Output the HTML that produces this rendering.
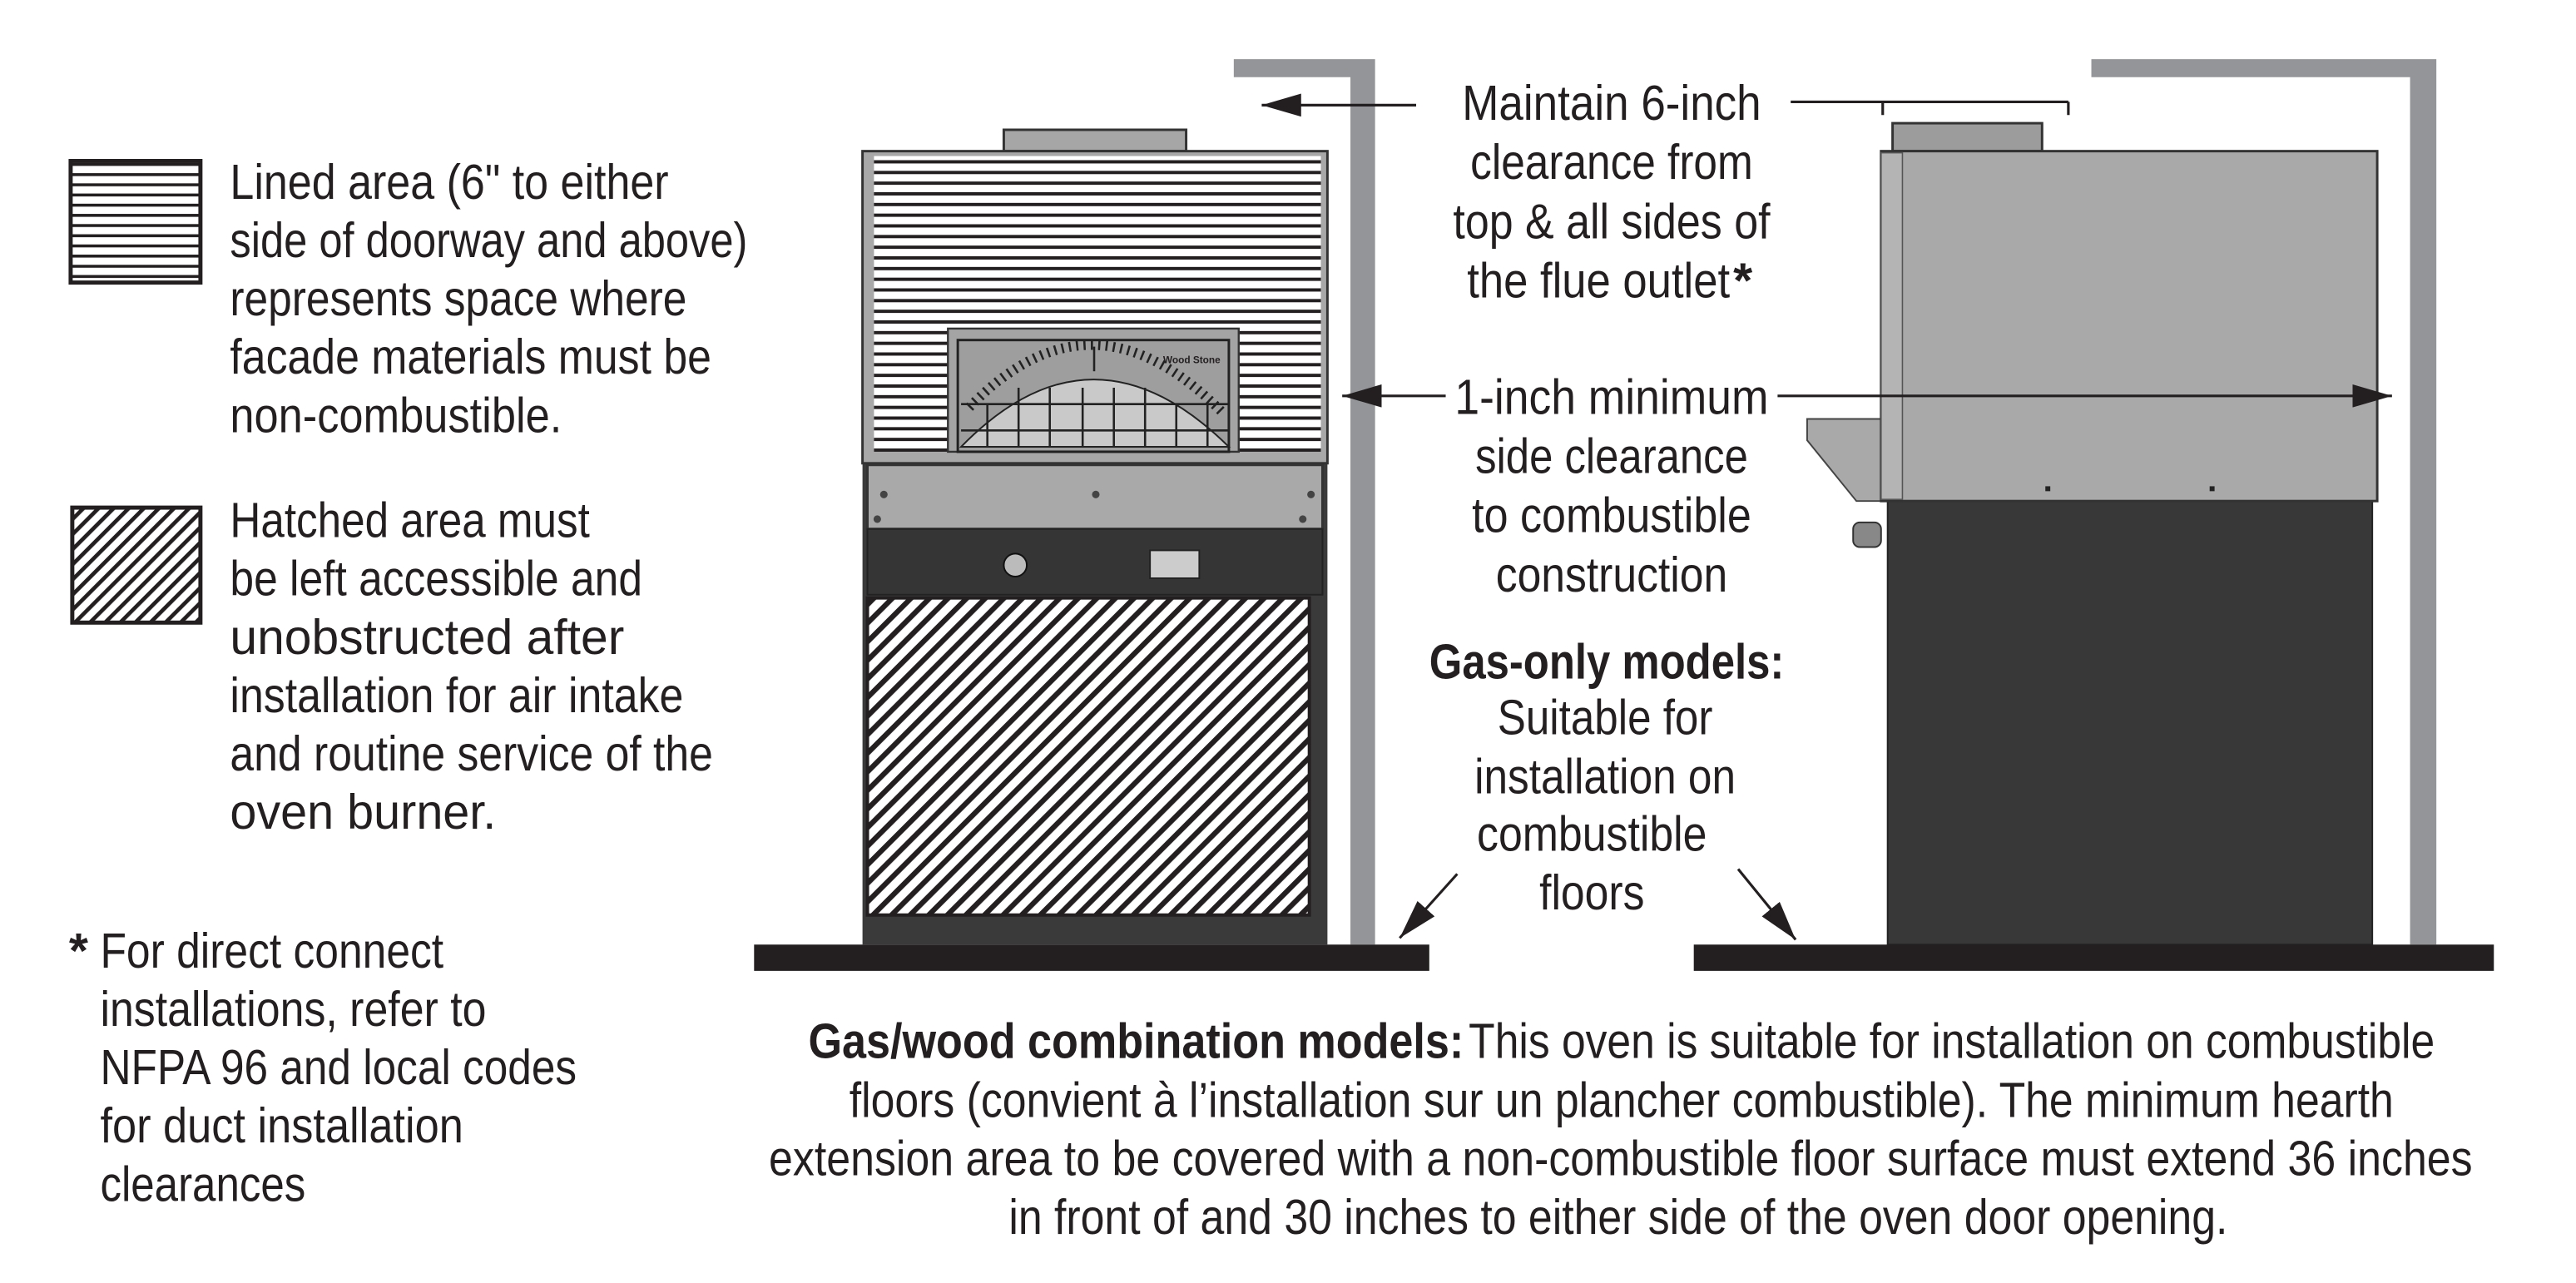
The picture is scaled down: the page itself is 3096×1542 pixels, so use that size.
<!DOCTYPE html>
<html><head><meta charset="utf-8"><style>
html,body{margin:0;padding:0;background:#fff;}
svg{display:block;}
text{font-family:"Liberation Sans Narrow","Liberation Sans",sans-serif;fill:#231f20;font-size:30px;}
.b{font-weight:bold;}
</style></head><body>
<svg width="3096" height="1542" viewBox="0 0 1568 781" preserveAspectRatio="none" xmlns="http://www.w3.org/2000/svg">
<defs>
<pattern id="hl" patternUnits="userSpaceOnUse" width="10" height="6.5"><rect width="10" height="6.5" fill="#fff"/><rect y="0" width="10" height="2" fill="#231f20"/></pattern>
<pattern id="hl2" patternUnits="userSpaceOnUse" width="10" height="6.2"><rect width="10" height="6.2" fill="#fff"/><rect y="0" width="10" height="1.8" fill="#231f20"/></pattern>
<pattern id="ht" patternUnits="userSpaceOnUse" width="8" height="8" patternTransform="rotate(45)"><rect width="8" height="8" fill="#fff"/><rect width="3.2" height="8" fill="#231f20"/></pattern>
<pattern id="ht2" patternUnits="userSpaceOnUse" width="6.5" height="6.5" patternTransform="rotate(45)"><rect width="6.5" height="6.5" fill="#fff"/><rect width="2.4" height="6.5" fill="#231f20"/></pattern>
<marker id="ah2" markerWidth="24" markerHeight="14" refX="24" refY="7" orient="auto" markerUnits="userSpaceOnUse"><path d="M0,0 L24,7 L0,14 Z" fill="#231f20"/></marker>
</defs>

<!-- Legend -->
<rect x="43" y="98" width="79" height="74" fill="url(#hl2)" stroke="#231f20" stroke-width="2.5"/>
<rect x="44" y="309" width="78" height="70" fill="url(#ht2)" stroke="#231f20" stroke-width="2.5"/>
<text x="140" y="121" textLength="267" lengthAdjust="spacingAndGlyphs">Lined area (6" to either</text>
<text x="140" y="156.5" textLength="315" lengthAdjust="spacingAndGlyphs">side of doorway and above)</text>
<text x="140" y="192" textLength="278" lengthAdjust="spacingAndGlyphs">represents space where</text>
<text x="140" y="227.5" textLength="293" lengthAdjust="spacingAndGlyphs">facade materials must be</text>
<text x="140" y="263" textLength="202" lengthAdjust="spacingAndGlyphs">non-combustible.</text>
<text x="140" y="327" textLength="219" lengthAdjust="spacingAndGlyphs">Hatched area must</text>
<text x="140" y="362.5" textLength="251" lengthAdjust="spacingAndGlyphs">be left accessible and</text>
<text x="140" y="398" textLength="240" lengthAdjust="spacingAndGlyphs">unobstructed after</text>
<text x="140" y="433.5" textLength="276" lengthAdjust="spacingAndGlyphs">installation for air intake</text>
<text x="140" y="469" textLength="294" lengthAdjust="spacingAndGlyphs">and routine service of the</text>
<text x="140" y="504.5" textLength="162" lengthAdjust="spacingAndGlyphs">oven burner.</text>
<text x="42" y="589" class="b">*</text>
<text x="61" y="589" textLength="209" lengthAdjust="spacingAndGlyphs">For direct connect</text>
<text x="61" y="624.5" textLength="235" lengthAdjust="spacingAndGlyphs">installations, refer to</text>
<text x="61" y="660" textLength="290" lengthAdjust="spacingAndGlyphs">NFPA 96 and local codes</text>
<text x="61" y="695.5" textLength="221" lengthAdjust="spacingAndGlyphs">for duct installation</text>
<text x="61" y="731" textLength="125" lengthAdjust="spacingAndGlyphs">clearances</text>

<!-- Left wall -->
<path d="M751,36 H837 V575 H822 V47 H751 Z" fill="#939598"/>
<!-- Left oven -->
<rect x="611" y="79" width="111" height="13" fill="#a6a6a6" stroke="#333" stroke-width="1.5"/>
<rect x="525" y="92" width="283" height="483" fill="#3a3a3a"/>
<rect x="525" y="92" width="283" height="190" fill="#a8a8a8" stroke="#333" stroke-width="1.5"/>
<rect x="532" y="95" width="272" height="180" fill="url(#hl)"/>
<!-- door -->
<rect x="577" y="200" width="177" height="75" fill="#a4a4a4" stroke="#333" stroke-width="1.2"/>
<rect x="583" y="207" width="165" height="68" fill="#9e9e9e" stroke="#222" stroke-width="1.5"/>
<path d="M585,272 Q665,190 748,272 Z" fill="#c9c9c9" stroke="#222" stroke-width="1"/>
<g stroke="#222" stroke-width="1.3">
<line x1="585" y1="262" x2="748" y2="262"/><line x1="585" y1="246" x2="748" y2="246"/>
<line x1="601" y1="246" x2="601" y2="272"/><line x1="620" y1="236" x2="620" y2="272"/><line x1="639" y1="236" x2="639" y2="272"/><line x1="659" y1="236" x2="659" y2="272"/><line x1="678" y1="236" x2="678" y2="272"/><line x1="697" y1="236" x2="697" y2="272"/><line x1="716" y1="246" x2="716" y2="272"/><line x1="735" y1="246" x2="735" y2="272"/>
<line x1="666" y1="211" x2="666" y2="226"/>
</g>
<path d="M590,248 Q665,170 745,252" fill="none" stroke="#222" stroke-width="6" stroke-dasharray="1.3 3.2"/>
<text x="708" y="221" style="font-size:6px;font-weight:bold">Wood Stone</text>
<!-- band -->
<rect x="528" y="283" width="277" height="39" fill="#a9a9a9" stroke="#333" stroke-width="1.5"/>
<g fill="#444"><circle cx="538" cy="301" r="2.3"/><circle cx="667" cy="301" r="2.3"/><circle cx="798" cy="301" r="2.3"/><circle cx="534" cy="316" r="2.3"/><circle cx="793" cy="316" r="2.3"/></g>
<rect x="528" y="322" width="277" height="40" fill="#353535" stroke="#222"/>
<circle cx="618" cy="344" r="7" fill="#bbb" stroke="#111"/>
<rect x="700" y="335" width="30" height="17" fill="#ccc" stroke="#222"/>
<rect x="528" y="364" width="269" height="193" fill="url(#ht)" stroke="#231f20" stroke-width="2"/>
<!-- floor -->
<rect x="459" y="575" width="411" height="16" fill="#231f20"/>

<!-- Right wall -->
<path d="M1273,36 H1483 V575 H1467 V47 H1273 Z" fill="#939598"/>
<!-- Right oven -->
<rect x="1152" y="75" width="91" height="17" fill="#9c9c9c" stroke="#333" stroke-width="1.5"/>
<path d="M1100,255 H1145 V305 H1130 L1100,268 Z" fill="#a9a9a9" stroke="#444" stroke-width="1"/>
<rect x="1149" y="305" width="295" height="270" fill="#383838" stroke="#222"/>
<rect x="1145" y="92" width="302" height="213" fill="#a9a9a9" stroke="#333" stroke-width="1.5"/>
<rect x="1145" y="93" width="13" height="211" fill="#b4b4b4" stroke="#555" stroke-width="0.8"/>
<rect x="1128" y="318" width="17" height="15" rx="4" fill="#888" stroke="#333"/>
<g fill="#222"><rect x="1245" y="296" width="3" height="3"/><rect x="1345" y="296" width="3" height="3"/></g>
<rect x="1031" y="575" width="487" height="16" fill="#231f20"/>

<!-- Center labels -->
<text x="981" y="73" text-anchor="middle" textLength="182" lengthAdjust="spacingAndGlyphs">Maintain 6-inch</text>
<text x="981" y="109" text-anchor="middle" textLength="172" lengthAdjust="spacingAndGlyphs">clearance from</text>
<text x="981" y="145" text-anchor="middle" textLength="193" lengthAdjust="spacingAndGlyphs">top &amp; all sides of</text>
<text x="893" y="181" textLength="160" lengthAdjust="spacingAndGlyphs">the flue outlet</text><text x="1055" y="181" class="b">*</text>
<text x="981" y="252" text-anchor="middle" textLength="191" lengthAdjust="spacingAndGlyphs">1-inch minimum</text>
<text x="981" y="288" text-anchor="middle" textLength="166" lengthAdjust="spacingAndGlyphs">side clearance</text>
<text x="981" y="324" text-anchor="middle" textLength="170" lengthAdjust="spacingAndGlyphs">to combustible</text>
<text x="981" y="360" text-anchor="middle" textLength="141" lengthAdjust="spacingAndGlyphs">construction</text>
<text x="978" y="413" text-anchor="middle" class="b" textLength="216" lengthAdjust="spacingAndGlyphs">Gas-only models:</text>
<text x="977" y="447" text-anchor="middle" textLength="131" lengthAdjust="spacingAndGlyphs">Suitable for</text>
<text x="977" y="483" text-anchor="middle" textLength="159" lengthAdjust="spacingAndGlyphs">installation on</text>
<text x="969" y="518" text-anchor="middle" textLength="140" lengthAdjust="spacingAndGlyphs">combustible</text>
<text x="969" y="553.5" text-anchor="middle" textLength="64" lengthAdjust="spacingAndGlyphs">floors</text>

<!-- Arrows -->
<g stroke="#231f20" stroke-width="1.6" fill="none">
<line x1="862" y1="64" x2="768" y2="64" marker-end="url(#ah2)"/>
<path d="M1090,62 H1259 M1146,62 V70 M1259,62 V70"/>
<line x1="880" y1="241" x2="817" y2="241" marker-end="url(#ah2)"/>
<line x1="1082" y1="241" x2="1456" y2="241" marker-end="url(#ah2)"/>
<line x1="887" y1="532" x2="852" y2="571" marker-end="url(#ah2)"/>
<line x1="1058" y1="529" x2="1093" y2="572" marker-end="url(#ah2)"/>
</g>

<!-- Bottom paragraph -->
<text y="644"><tspan x="492" class="b" textLength="399" lengthAdjust="spacingAndGlyphs">Gas/wood combination models:</tspan><tspan x="894" textLength="588" lengthAdjust="spacingAndGlyphs">This oven is suitable for installation on combustible</tspan></text>
<text x="517" y="680" textLength="940" lengthAdjust="spacingAndGlyphs">floors (convient à l’installation sur un plancher combustible). The minimum hearth</text>
<text x="468" y="715.5" textLength="1037" lengthAdjust="spacingAndGlyphs">extension area to be covered with a non-combustible floor surface must extend 36 inches</text>
<text x="614" y="751" textLength="742" lengthAdjust="spacingAndGlyphs">in front of and 30 inches to either side of the oven door opening.</text>
</svg>
</body></html>
